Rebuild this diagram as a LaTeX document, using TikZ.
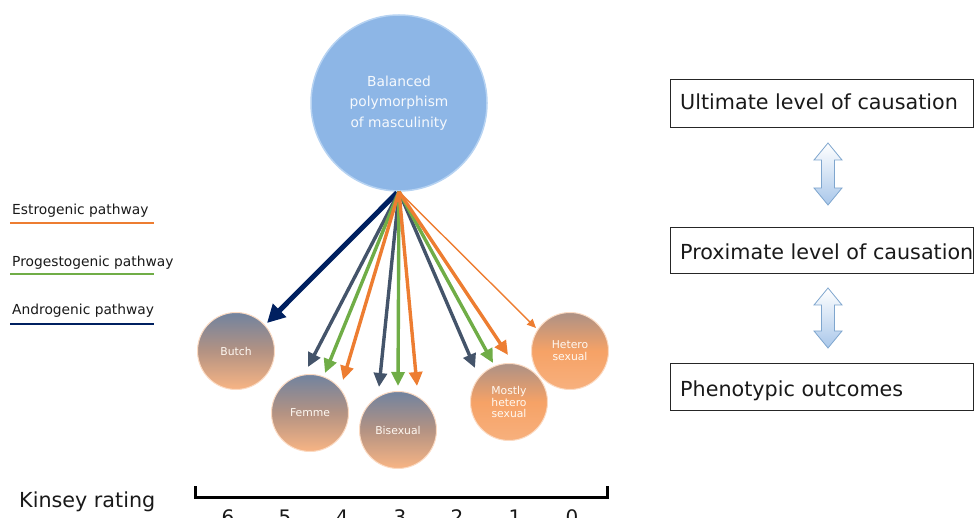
\documentclass[tikz,border=0pt]{standalone}
\usepackage{fontspec}
\setmainfont{DejaVu Sans}
\usetikzlibrary{arrows.meta,calc}
\definecolor{navy}{HTML}{002060}
\definecolor{slate}{HTML}{44546A}
\definecolor{grn}{HTML}{70AD47}
\definecolor{orng}{HTML}{ED7D31}
\definecolor{skyb}{HTML}{8DB6E6}
\definecolor{skyedge}{HTML}{B7D3F2}
\definecolor{greytop}{HTML}{71839F}
\definecolor{orbot}{HTML}{F6A266}
\definecolor{arrline}{HTML}{7FA6CE}
\definecolor{arrfill}{HTML}{A9C7EA}
\begin{document}
\begin{tikzpicture}[x=1pt,y=-1pt,
  legtext/.style={anchor=base west,inner sep=0pt,font=\fontsize{13.8}{16}\selectfont,text=black!90},
  legline/.style={line width=2.6pt},
  bigtext/.style={anchor=base west,inner sep=0pt,font=\fontsize{20.7}{24}\selectfont,text=black!90},
  levelbox/.style={draw=black!85,line width=0.8pt},
  small/.style={circle,minimum size=77pt,inner sep=0pt,draw=orbot!40!white,line width=1pt,
    text=white!95!orange,align=center,font=\fontsize{10.8}{11.8}\selectfont},
  greyish/.style={small,top color=greytop,bottom color=orbot!80!white,middle color=orbot!50!greytop},
  orangish/.style={small,top color=greytop!55!orbot,bottom color=orbot!85!white,middle color=orbot},
  pathw/.style={line width=3.4pt,-{Triangle[length=14pt,width=13pt]}},
  digit/.style={anchor=base,inner sep=0pt,font=\fontsize{20}{24}\selectfont,text=black!90},
  dblarrow/.style={draw=arrline,line width=0.8pt,top color=white,bottom color=arrfill}
]
\useasboundingbox (0,0) rectangle (974,518);

% main circle
\node[circle,minimum size=176pt,inner sep=0pt,fill=skyb,draw=skyedge,line width=1.5pt,
  text=white!92!skyb,align=center,font=\fontsize{13.8}{20.5}\selectfont]
  (main) at (399,103) {Balanced\\polymorphism\\of masculinity};

% outcome circles
\node[greyish] (butch) at (236,351) {Butch};
\node[greyish] (femme) at (310,413) {Femme};
\node[greyish] (bisex) at (398,430) {Bisexual};
\node[orangish] (mostly) at (509,402) {Mostly\\hetero\\sexual};
\node[orangish] (hetero) at (570,351) {Hetero\\sexual};

% arrow tips
\coordinate (tA) at (267,323);
\coordinate (tF1) at (308,367);
\coordinate (tF2) at (325,373);
\coordinate (tF3) at (343,380);
\coordinate (tB1) at (379,387);
\coordinate (tB2) at (398,386);
\coordinate (tB3) at (417,386);
\coordinate (tM1) at (475,368);
\coordinate (tM2) at (493,363);
\coordinate (tM3) at (508,355);
\coordinate (tH) at (536,328);

\draw[line width=5pt,navy,-{Triangle[length=18pt,width=18pt]}] ($(main.south)+(-2,1)$) -- (tA);
\draw[pathw,slate] (main.south) -- (tF1);
\draw[pathw,slate] (main.south) -- (tB1);
\draw[pathw,slate] (main.south) -- (tM1);
\draw[pathw,grn] (main.south) -- (tF2);
\draw[pathw,grn] (main.south) -- (tB2);
\draw[pathw,grn] (main.south) -- (tM2);
\draw[pathw,orng] (main.south) -- (tF3);
\draw[pathw,orng] (main.south) -- (tB3);
\draw[pathw,orng] (main.south) -- (tM3);
\draw[line width=1.4pt,orng,-{Triangle[length=9pt,width=8pt]}] (main.south) -- (tH);

% legend
\node[legtext] (lest) at (12,215) {Estrogenic pathway};
\draw[legline,orng] (10,223) -- (154,223);
\node[legtext] (lpro) at (12,267) {Progestogenic pathway};
\draw[legline,grn] (10,274) -- (154,274);
\node[legtext] (land) at (12,315) {Androgenic pathway};
\draw[legline,navy] (10,324) -- (154,324);

% Kinsey scale
\node[bigtext] (kins) at (19,507) {Kinsey rating};
\draw[line width=3pt] (195,486) -- (195,497) -- (607,497) -- (607,486);
\node[digit] (d6) at (228,524) {6};
\node[digit] (d5) at (285,524) {5};
\node[digit] (d4) at (342,524) {4};
\node[digit] (d3) at (400,524) {3};
\node[digit] (d2) at (457,524) {2};
\node[digit] (d1) at (515,524) {1};
\node[digit] (d0) at (572,524) {0};

% levels
\draw[levelbox] (670,79) rectangle (973.5,127);
\draw[levelbox] (670,227) rectangle (973.5,273);
\draw[levelbox] (670,363) rectangle (973.5,410);
\node[bigtext] (ult) at (680,110) {Ultimate level of causation};
\node[bigtext] (prox) at (680,260) {Proximate level of causation};
\node[bigtext] (phen) at (680,396) {Phenotypic outcomes};

% double arrows
\foreach \t/\b in {143/205, 288/348}{
  \draw[dblarrow] (828,\t) -- (842,\t+17) -- (834.5,\t+17) -- (834.5,\b-17) -- (842,\b-17)
    -- (828,\b) -- (814,\b-17) -- (821.5,\b-17) -- (821.5,\t+17) -- (814,\t+17) -- cycle;
}
\end{tikzpicture}
\end{document}
